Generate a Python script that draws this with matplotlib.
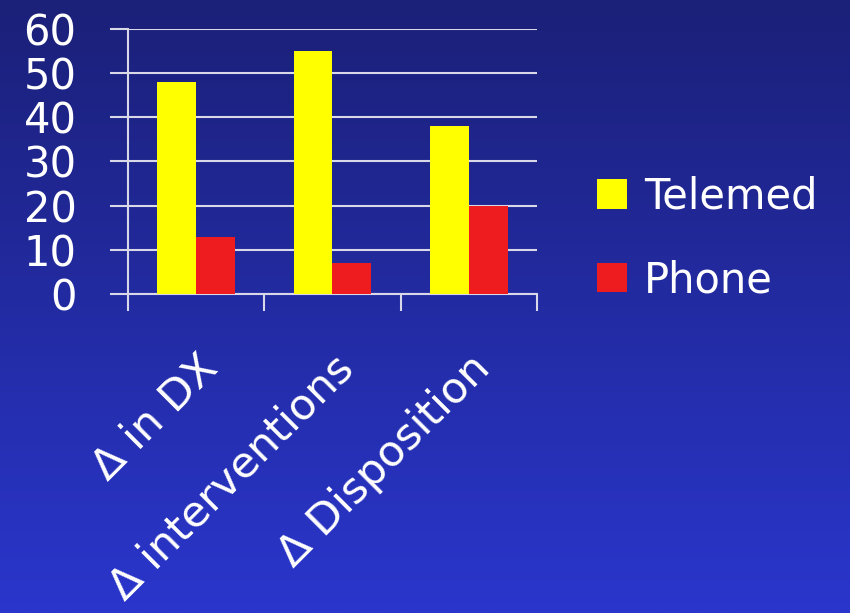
import numpy as np
import matplotlib.pyplot as plt
from matplotlib.colors import LinearSegmentedColormap

categories = ['Δ in DX', 'Δ interventions', 'Δ Disposition']
telemed = [48, 55, 38]
phone = [13, 7, 20]
yticks = [0, 10, 20, 30, 40, 50, 60]

plt.rcParams['font.family'] = ['DejaVu Sans']

fig = plt.figure(figsize=(8.5, 6.13), dpi=100)

# gradient background
bg = fig.add_axes([0, 0, 1, 1], zorder=-10)
grad = np.linspace(0, 1, 256).reshape(-1, 1)
cmap = LinearSegmentedColormap.from_list('bg', ['#1b2078', '#2a36cc'])
bg.imshow(grad, aspect='auto', cmap=cmap, extent=[0, 1, 0, 1], origin='upper')
bg.axis('off')

ax = fig.add_axes([128 / 850, 1 - 294 / 613, 409 / 850, 265 / 613])
ax.patch.set_alpha(0)

x = np.arange(len(categories))
w = 0.285
ax.bar(x - w / 2, telemed, w, color='#ffff00', label='Telemed', zorder=3)
ax.bar(x + w / 2, phone, w, color='#ee1c1f', label='Phone', zorder=3)

ax.set_xlim(-0.5, 2.5)
ax.set_ylim(0, 60)
ax.set_yticks(yticks)
ax.set_yticklabels([str(v) for v in yticks], fontsize=30, color='white')
ax.yaxis.grid(True, color='#d8d8e8', linewidth=1.5, zorder=0)
ax.tick_params(axis='y', direction='out', length=13, width=1.5, color='#d8d8e8', pad=24)

ax.set_xticks(x)
ax.set_xticklabels(categories, rotation=45, ha='right', va='top',
                   rotation_mode='anchor', fontsize=31, color='white')
ax.tick_params(axis='x', which='major', length=0, pad=38)
ax.set_xticks([-0.5, 0.5, 1.5, 2.5], minor=True)
ax.tick_params(axis='x', which='minor', direction='out', length=12, width=1.5, color='#d8d8e8')

for s in ['top', 'right']:
    ax.spines[s].set_visible(False)
for s in ['left', 'bottom']:
    ax.spines[s].set_color('#d8d8e8')
    ax.spines[s].set_linewidth(1.5)

leg = ax.legend(loc='center left', bbox_to_anchor=(1.147, 0.21), frameon=False,
                fontsize=30, handlelength=0.72, handleheight=0.72,
                handletextpad=0.4, labelspacing=1.0, borderaxespad=0, borderpad=0)
for t in leg.get_texts():
    t.set_color('white')

fig.savefig('out.png', dpi=100)
